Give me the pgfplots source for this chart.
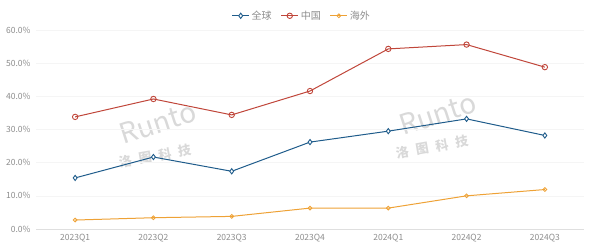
\documentclass[border=0pt]{standalone}
\usepackage{pgfplots}
\pgfplotsset{compat=1.18}
\usepackage{fontspec}
\setmainfont{Noto Sans CJK SC}
\definecolor{cblue}{HTML}{1F5C8B}
\definecolor{cred}{HTML}{C0463A}
\definecolor{corange}{HTML}{EEA236}
\definecolor{tgray}{HTML}{8C8C8C}
\begin{document}
\begin{tikzpicture}[x=1pt,y=1pt]
\useasboundingbox (0,0) rectangle (600,251);
\node[rotate=18,text=gray!30,inner sep=0pt,font=\fontsize{28}{28}\selectfont\itshape] at (158,128) {Runto};
\node[rotate=10,text=gray!30,inner sep=0pt,font=\fontsize{13}{13}\selectfont\bfseries] at (155,95) {洛\hspace{7pt}图\hspace{7pt}科\hspace{7pt}技};
\node[rotate=18,text=gray!30,inner sep=0pt,font=\fontsize{28}{28}\selectfont\itshape] at (438,137) {Runto};
\node[rotate=10,text=gray!30,inner sep=0pt,font=\fontsize{13}{13}\selectfont\bfseries] at (432,104) {洛\hspace{7pt}图\hspace{7pt}科\hspace{7pt}技};
\begin{axis}[
  at={(36pt,22pt)}, anchor=south west,
  scale only axis, width=548pt, height=199pt,
  xmin=-0.5, xmax=6.5, ymin=0, ymax=60,
  xtick={0,...,6},
  xticklabels={2023Q1,2023Q2,2023Q3,2023Q4,2024Q1,2024Q2,2024Q3},
  ytick={0,10,...,60},
  yticklabels={0.0\%,10.0\%,20.0\%,30.0\%,40.0\%,50.0\%,60.0\%},
  tick label style={font=\fontsize{8.5}{9}\selectfont, text=tgray},
  major tick length=0pt,
  axis x line*=bottom, axis y line*=left,
  x axis line style={draw=gray!25, line width=0.8pt},
  y axis line style={draw=none},
  ymajorgrids, grid style={draw=gray!8, line width=0.4pt},
  yticklabel style={xshift=-2pt},
  xticklabel style={yshift=-2pt},
  legend style={at={(0.485,1.0)}, anchor=south, yshift=5pt, draw=none, fill=none,
    font=\fontsize{10}{10}\selectfont, text=tgray, legend columns=3,
    /tikz/every even column/.append style={column sep=7pt}},
  legend cell align=left,
  every axis plot/.append style={line width=1pt},
]
\addplot[cblue, mark=diamond*, mark size=2.6pt, mark options={fill=white, line width=0.9pt}]
 coordinates {(0,15.4) (1,21.7) (2,17.4) (3,26.2) (4,29.5) (5,33.2) (6,28.2)};
\addlegendentry{全球}
\addplot[cred, mark=o, mark size=2.7pt, mark options={fill=white, line width=0.9pt}]
 coordinates {(0,33.8) (1,39.2) (2,34.4) (3,41.6) (4,54.3) (5,55.6) (6,48.8)};
\addlegendentry{中国}
\addplot[corange, mark=o, mark size=1.9pt, mark options={fill=white, line width=0.8pt}]
 coordinates {(0,2.7) (1,3.4) (2,3.8) (3,6.3) (4,6.3) (5,10.0) (6,11.9)};
\addlegendentry{海外}
\end{axis}
\end{tikzpicture}
\end{document}
